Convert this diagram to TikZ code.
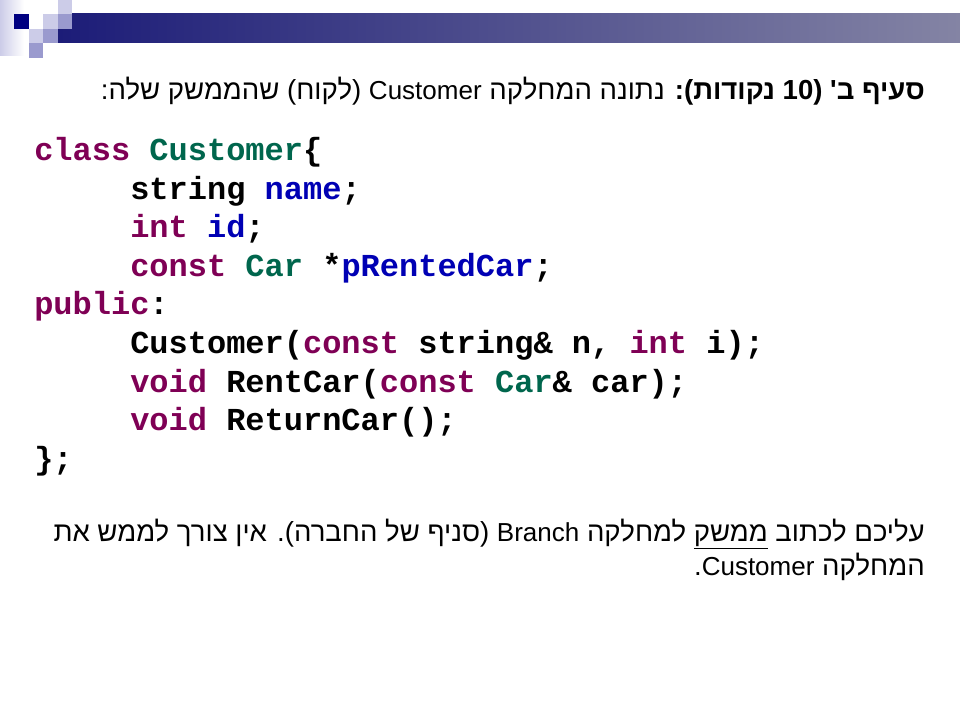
\documentclass[tikz,border=0pt]{standalone}
\usepackage{fontspec}
\setmainfont{Liberation Sans}
\setmonofont{Liberation Mono}
\newfontfamily\hebfont[Script=Hebrew,Scale=1.06]{Liberation Sans}
\newfontfamily\latfont{Liberation Sans}
\TeXXeTstate=1
\usepackage{tikz}

\definecolor{navy}{HTML}{000080}
\definecolor{barleft}{HTML}{1C1C78}
\definecolor{barright}{HTML}{8484A4}
\definecolor{lav}{HTML}{CCCCE8}
\definecolor{midlav}{HTML}{9A9ACE}
\definecolor{kwcol}{HTML}{7F0055}
\definecolor{tycol}{HTML}{00664D}
\definecolor{vrcol}{HTML}{0000B4}

\newcommand{\kw}[1]{\textcolor{kwcol}{#1}}
\newcommand{\ty}[1]{\textcolor{tycol}{#1}}
\newcommand{\vr}[1]{\textcolor{vrcol}{#1}}
\newcommand{\lat}[1]{\beginL{\latfont #1}\endL{}}

\begin{document}
\begin{tikzpicture}[
    x=0.75pt,y=-0.75pt,
    code/.style={anchor=base west, inner sep=0,
      font=\ttfamily\bfseries\fontsize{24}{28}\selectfont},
    heb/.style={anchor=base east, inner sep=0,
      font=\hebfont\fontsize{19.5}{24}\selectfont}
    ]
    \useasboundingbox (0,0) rectangle (960,720);
    \fill[white] (0,0) rectangle (960,720);
    % banner
    \shade[left color=lav, right color=white] (0,0) rectangle (24,56);
    \shade[left color=barleft, right color=barright] (58,14) rectangle (960,43);
    \fill[lav] (58,0) rectangle (72,14);
    \fill[navy] (14,14) rectangle (29,29);
    \fill[lav] (43,14) rectangle (58,29);
    \fill[midlav] (58,14) rectangle (72,29);
    \fill[lav] (29,29) rectangle (43,43);
    \fill[midlav] (43,29) rectangle (58,43);
    \fill[midlav] (29,43) rectangle (43,58);
    % title
    \node[heb] (title) at (925,100) {\beginR\textbf{סעיף ב' (\beginL 10\endL{} נקודות):} נתונה המחלקה \lat{Customer} (לקוח) שהממשק שלה:\endR};
    % code
    \node[code] (c1) at (34,161) {\kw{class} \ty{Customer}\{};
    \node[code] (c2) at (130,199.5) {string \vr{name};};
    \node[code] (c3) at (130,238) {\kw{int} \vr{id};};
    \node[code] (c4) at (130,276.5) {\kw{const} \ty{Car} *\vr{pRentedCar};};
    \node[code] (c5) at (34,315) {\kw{public}:};
    \node[code] (c6) at (130,353.5) {Customer(\kw{const} string\& n, \kw{int} i);};
    \node[code] (c7) at (130,392) {\kw{void} RentCar(\kw{const} \ty{Car}\& car);};
    \node[code] (c8) at (130,430.5) {\kw{void} ReturnCar();};
    \node[code] (c9) at (34,469) {\};};
    % task
    \node[heb] (task1) at (925,541) {\beginR עליכם לכתוב \underline{ממשק} למחלקה \lat{Branch} (סניף של החברה). אין צורך לממש את\endR};
    \node[heb] (task2) at (925,575) {\beginR המחלקה \lat{Customer}.\endR};
  \end{tikzpicture}
\end{document}
